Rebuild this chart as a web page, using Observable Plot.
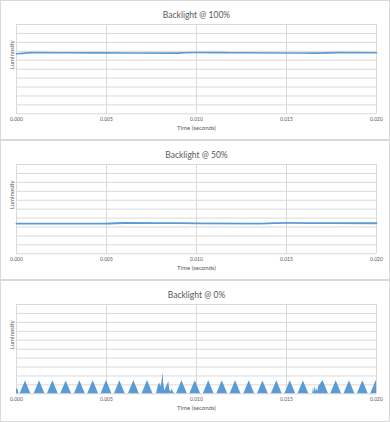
<!DOCTYPE html>
<html>
<head>
<meta charset="utf-8">
<script src="https://cdn.jsdelivr.net/npm/d3@7"></script>
<script src="https://cdn.jsdelivr.net/npm/@observablehq/plot@0.6"></script>
<style>
  html, body { margin: 0; padding: 0; background: #fff; }
  #charts { width: 390px; }
  #charts svg { display: block; outline: 1px solid #d9d9d9; outline-offset: -1px; }
</style>
</head>
<body>
<div id="charts"></div>
<script>
// ---- Data ----
const titles = ["Backlight @ 100%", "Backlight @ 50%", "Backlight @ 0%"];
const xTicks = [0, 0.005, 0.010, 0.015, 0.020];
const yTicks = [0, 10, 20, 30, 40, 50, 60, 70, 80, 90, 100];
const xLabel = "Time (seconds)";
const yLabel = "Luminosity";

// Backlight @ 100%
const t100 = [0, 0.0010, 0.0030, 0.0050, 0.0085, 0.0098, 0.0120, 0.0150, 0.0165, 0.0178, 0.0200];
const lum100 = [67.2, 68.5, 68.3, 68.2, 67.9, 68.6, 68.4, 68.1, 67.9, 68.5, 68.3];

// Backlight @ 50%
const t50 = [0, 0.0050, 0.0060, 0.0080, 0.0100, 0.0135, 0.0150, 0.0175, 0.0200];
const lum50 = [33.9, 33.9, 34.5, 34.4, 34.1, 33.9, 34.6, 34.3, 34.2];

// Backlight @ 0% (PWM-like flicker pulses)
const t0 = [
  0, 0.00008, 0.00012, 0.0002, 0.0005, 0.0008,
  0.00098, 0.00128, 0.00158,
  0.00172, 0.00202, 0.00232,
  0.00246, 0.00276, 0.00306,
  0.00322, 0.00352, 0.00382,
  0.00396, 0.00426, 0.00456,
  0.00470, 0.00500, 0.00530,
  0.00544, 0.00574, 0.00604,
  0.00622, 0.00652, 0.00682,
  0.00698, 0.00728, 0.00758,
  0.00778, 0.00788, 0.00796, 0.00802, 0.00808, 0.00814, 0.00818, 0.00824, 0.00832, 0.00846, 0.00852, 0.00858, 0.00866, 0.00872, 0.00880,
  0.00889, 0.00919, 0.00949,
  0.00963, 0.00993, 0.01023,
  0.01038, 0.01068, 0.01098,
  0.01113, 0.01143, 0.01173,
  0.01187, 0.01217, 0.01247,
  0.01263, 0.01293, 0.01323,
  0.01339, 0.01369, 0.01399,
  0.01416, 0.01446, 0.01476,
  0.01491, 0.01521, 0.01551,
  0.01564, 0.01594, 0.01624,
  0.01646, 0.01650, 0.01654, 0.01660, 0.01664, 0.01668, 0.01674, 0.01678, 0.01703, 0.01733,
  0.01746, 0.01776, 0.01806,
  0.01820, 0.01850, 0.01880,
  0.01894, 0.01924, 0.01954,
  0.01968, 0.01998, 0.02000
];
const lum0 = [
  5.5, 5, 1, 0, 14.3, 0,
  0, 14.6, 0,
  0, 14.6, 0,
  0, 14.4, 0,
  0, 14.6, 0,
  0, 14.6, 0,
  0, 14.8, 0,
  0, 14.6, 0,
  0, 14.6, 0,
  0, 14.9, 0,
  0, 9, 12, 8, 13, 23.6, 11, 3, 7, 13.6, 4, 2, 5.5, 1.5, 0,
  0, 14.6, 0,
  0, 14.6, 0,
  0, 14.6, 0,
  0, 14.6, 0,
  0, 14.6, 0,
  0, 14.6, 0,
  0, 14.4, 0,
  0, 14.6, 0,
  0, 14.6, 0,
  0, 14.2, 0,
  0, 8, 1, 9, 2, 6, 2, 8, 15, 0,
  0, 14.6, 0,
  0, 14.6, 0,
  0, 14.6, 0,
  0, 14.6, 14
];

// ---- Styling ----
const blue = "#5b9bd5";
const grid = "#d9d9d9";
const textColor = "#595959";
const font = "Lato, 'Open Sans', sans-serif";

function toRows(ts, ls) { return ts.map((t, i) => ({t, v: ls[i]})); }

function panel(title, dataMark, h) {
  return Plot.plot({
    width: 390,
    height: h,
    marginTop: 24,
    marginLeft: 16,
    marginRight: 14,
    marginBottom: h - 113.3,
    style: {fontFamily: font, background: "#fff", color: textColor},
    x: {domain: [0, 0.02]},
    y: {domain: [0, 100], axis: null},
    marks: [
      Plot.gridY(yTicks, {stroke: grid, strokeOpacity: 1, strokeWidth: 1}),
      Plot.gridX(xTicks, {stroke: grid, strokeOpacity: 1, strokeWidth: 1}),
      dataMark,
      Plot.axisX(xTicks, {tickSize: 0, tickPadding: 4, tickFormat: d3.format(".3f"), fontSize: 5, fill: textColor, label: null}),
      Plot.text([title], {text: d => d, frameAnchor: "top", dy: -13, fontSize: 8.5, fill: textColor}),
      Plot.text([xLabel], {text: d => d, frameAnchor: "bottom", dy: 16, fontSize: 6, fill: textColor}),
      Plot.text([yLabel], {text: d => d, frameAnchor: "left", dx: -4.5, rotate: -90, fontSize: 6, fill: textColor})
    ]
  });
}

const root = document.getElementById("charts");
root.append(panel(titles[0], Plot.lineY(toRows(t100, lum100), {x: "t", y: "v", stroke: blue, strokeWidth: 1.6, curve: "monotone-x"}), 140));
root.append(panel(titles[1], Plot.lineY(toRows(t50, lum50), {x: "t", y: "v", stroke: blue, strokeWidth: 1.8, curve: "monotone-x"}), 140));
root.append(panel(titles[2], Plot.areaY(toRows(t0, lum0), {x: "t", y: "v", fill: blue, curve: "linear"}), 142));
</script>
</body>
</html>
